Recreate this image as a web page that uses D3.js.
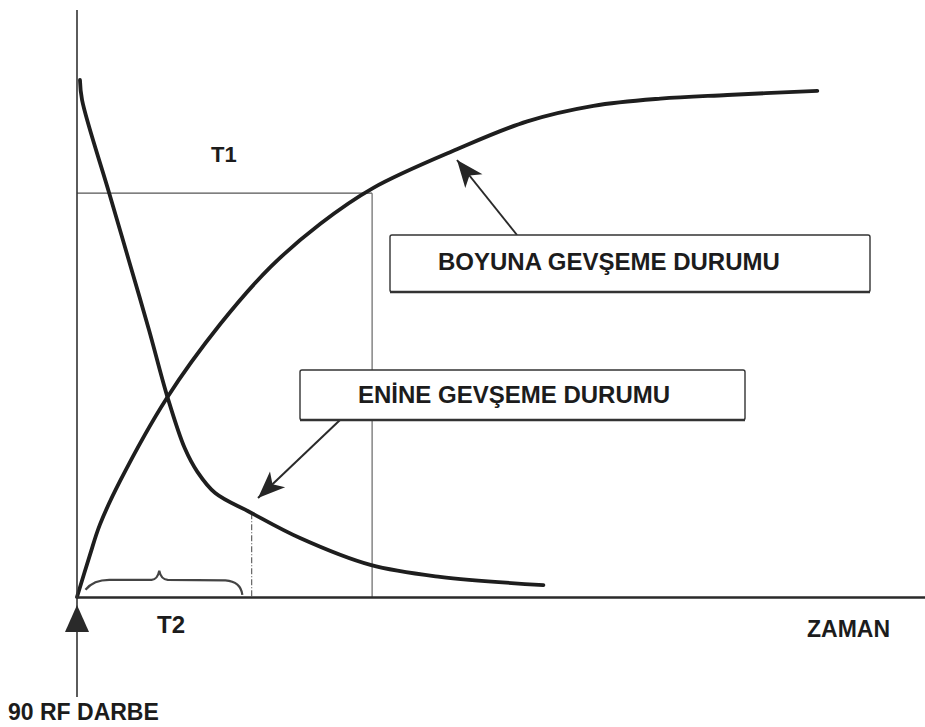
<!DOCTYPE html>
<html>
<head>
<meta charset="utf-8">
<script src="https://cdn.jsdelivr.net/npm/d3@7"></script>
<style>
  body { margin: 0; background: #fff; }
  text { font-family: "Liberation Sans", Arial, sans-serif; font-weight: bold; fill: #1c1c1c; }
</style>
</head>
<body>
<svg id="chart" width="925" height="727"></svg>
<script>
// time in arbitrary units, signal relative to full magnetisation
var t1Time = [0, 0.15, 0.27, 0.51, 1.06, 1.69, 2.28, 2.87, 3.49, 4.48, 5.31, 6.09, 6.88, 7.67, 8.73];
var t1Signal = [0, 0.08, 0.14, 0.225, 0.385, 0.528, 0.638, 0.722, 0.791, 0.866, 0.92, 0.95, 0.964, 0.971, 0.979];

var t2Time = [0.035, 0.06, 0.38, 0.61, 0.85, 1.07, 1.27, 1.42, 1.63, 2.04, 2.63, 3.46, 4.28, 5.5];
var t2Signal = [1.0, 0.961, 0.781, 0.652, 0.516, 0.385, 0.288, 0.242, 0.201, 0.164, 0.114, 0.062, 0.039, 0.023];

// marked times and levels
var t1Mark = 3.48, t1Level = 0.781;   // T1 point on the recovery curve
var t2Mark = 2.06, t2Level = 0.162;   // T2 point on the decay curve
var labels = ['T1', 'T2', 'ZAMAN', '90 RF DARBE', 'BOYUNA GEVŞEME DURUMU', 'ENİNE GEVŞEME DURUMU'];

var svg = d3.select('#chart');

var x = d3.scaleLinear().domain([0, 10]).range([77, 925]);
var y = d3.scaleLinear().domain([0, 1]).range([597, 80]);

var t1Data = t1Time.map((t, i) => ({ t: t, v: t1Signal[i] }));
var t2Data = t2Time.map((t, i) => ({ t: t, v: t2Signal[i] }));

var line = d3.line()
  .x(d => x(d.t))
  .y(d => y(d.v))
  .curve(d3.curveCatmullRom.alpha(0.5));

// arrow head
svg.append('defs').append('marker')
  .attr('id', 'head')
  .attr('markerUnits', 'userSpaceOnUse')
  .attr('markerWidth', 34).attr('markerHeight', 34)
  .attr('viewBox', '-30 -15 34 30')
  .attr('refX', 0).attr('refY', 0)
  .attr('orient', 'auto')
  .append('path')
  .attr('d', 'M0,0 L-27,-11 L-20,0 L-27,11 Z')
  .attr('fill', '#262626');

// guide lines for T1
svg.append('line')
  .attr('x1', x(0)).attr('x2', x(t1Mark))
  .attr('y1', y(t1Level)).attr('y2', y(t1Level))
  .attr('stroke', '#555').attr('stroke-width', 1.2);
svg.append('line')
  .attr('x1', x(t1Mark)).attr('x2', x(t1Mark))
  .attr('y1', y(t1Level)).attr('y2', y(0))
  .attr('stroke', '#666').attr('stroke-width', 1.2);

// guide line for T2
svg.append('line')
  .attr('x1', x(t2Mark)).attr('x2', x(t2Mark))
  .attr('y1', y(t2Level)).attr('y2', y(0))
  .attr('stroke', '#555').attr('stroke-width', 1.1)
  .attr('stroke-dasharray', '6,2,1,2');

// brace under the T2 interval
var bx0 = 0.1, bx1 = 1.95, bpeak = 0.97;
var brace = d3.path();
brace.moveTo(x(bx0), y(0.014));
brace.quadraticCurveTo(x(0.2), y(0.034), x(0.4), y(0.033));
brace.lineTo(x(bpeak - 0.09), y(0.033));
brace.quadraticCurveTo(x(bpeak - 0.02), y(0.034), x(bpeak), y(0.051));
brace.quadraticCurveTo(x(bpeak + 0.02), y(0.034), x(bpeak + 0.1), y(0.033));
brace.lineTo(x(bx1 - 0.2), y(0.032));
brace.quadraticCurveTo(x(bx1 - 0.02), y(0.03), x(bx1), y(0.004));
svg.append('path')
  .attr('d', brace.toString())
  .attr('fill', 'none')
  .attr('stroke', '#444')
  .attr('stroke-width', 2.2);

// curves
[t1Data, t2Data].forEach(data => {
  svg.append('path')
    .datum(data)
    .attr('d', line)
    .attr('fill', 'none')
    .attr('stroke', '#1e1e1e')
    .attr('stroke-width', 3.8)
    .attr('stroke-linecap', 'round');
});

// axes
svg.append('g')
  .attr('transform', 'translate(0,' + y(0) + ')')
  .call(d3.axisBottom(x).tickValues([]).tickSizeOuter(0))
  .select('.domain')
  .attr('stroke', '#2a2a2a')
  .attr('stroke-width', 2.6);

svg.append('line')
  .attr('x1', x(0)).attr('x2', x(0))
  .attr('y1', 10).attr('y2', 697)
  .attr('stroke', '#333').attr('stroke-width', 1.6);

// RF pulse arrow head
svg.append('path')
  .attr('d', 'M' + x(0) + ',605 L' + (x(0) + 12) + ',632 L' + (x(0) - 12) + ',632 Z')
  .attr('fill', '#2a2a2a');

// arrows from boxes to curves
svg.append('line')
  .attr('x1', 517).attr('y1', 235)
  .attr('x2', 457).attr('y2', 160)
  .attr('stroke', '#2a2a2a').attr('stroke-width', 2)
  .attr('marker-end', 'url(#head)');
svg.append('line')
  .attr('x1', 340).attr('y1', 420)
  .attr('x2', 258).attr('y2', 498)
  .attr('stroke', '#2a2a2a').attr('stroke-width', 2)
  .attr('marker-end', 'url(#head)');

// annotation boxes
function box(bx, by, bw, bh, label, tx, ty) {
  svg.append('rect')
    .attr('x', bx).attr('y', by).attr('width', bw).attr('height', bh)
    .attr('rx', 2)
    .attr('fill', '#fff')
    .attr('stroke', '#333').attr('stroke-width', 1.4);
  svg.append('line')
    .attr('x1', bx).attr('x2', bx + bw)
    .attr('y1', by + bh).attr('y2', by + bh)
    .attr('stroke', '#333').attr('stroke-width', 2.4);
  svg.append('text')
    .attr('x', tx).attr('y', ty)
    .style('font-size', '24px')
    .text(label);
}

box(390, 235, 480, 57, labels[4], 438, 270);
box(300, 370, 445, 50, labels[5], 358, 403);

// labels
svg.append('text').attr('x', 211).attr('y', 162).style('font-size', '22px').text(labels[0]);
svg.append('text').attr('x', 157).attr('y', 633).style('font-size', '24px').text(labels[1]);
svg.append('text').attr('x', 807).attr('y', 637).style('font-size', '23px').text(labels[2]);
svg.append('text').attr('x', 8).attr('y', 720).style('font-size', '23px').text(labels[3]);
</script>
</body>
</html>
